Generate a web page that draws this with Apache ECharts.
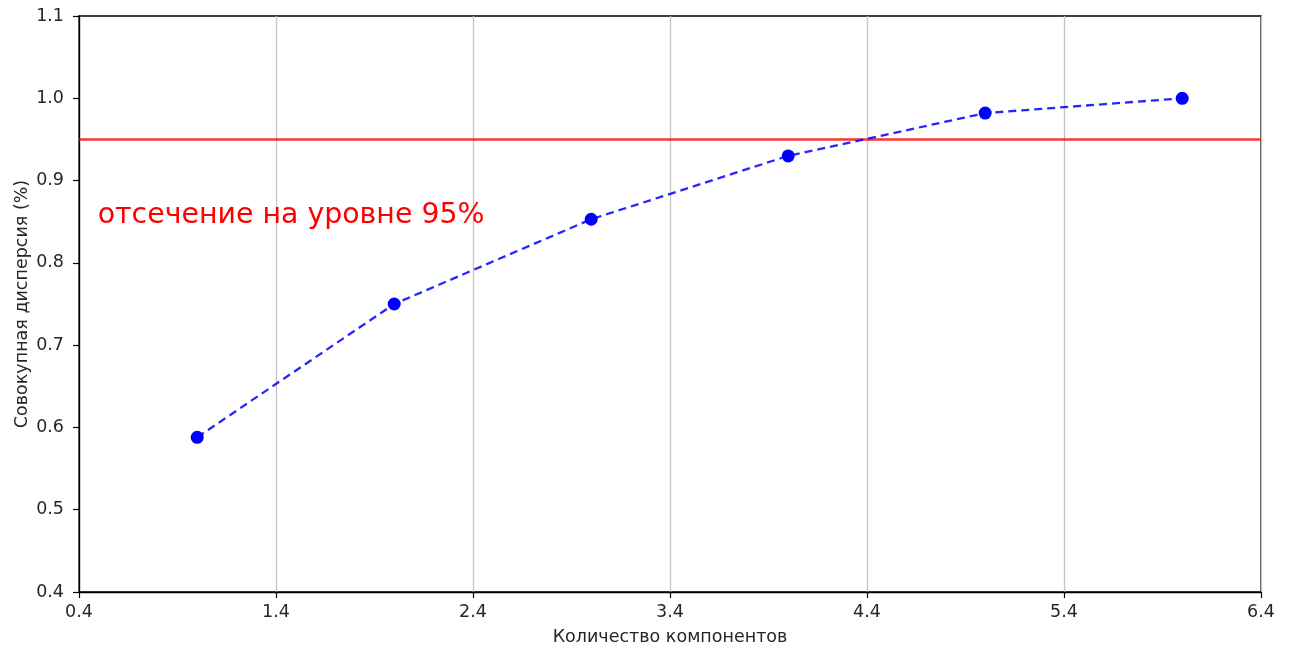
<!DOCTYPE html>
<html>
<head>
<meta charset="utf-8">
<script src="https://cdn.jsdelivr.net/npm/echarts@6/dist/echarts.min.js"></script>
<style>
  html, body { margin: 0; padding: 0; background: #fff; }
  #chart { width: 1289px; height: 645px; }
</style>
</head>
<body>
<div id="chart"></div>
<script>
// Cumulative explained variance by number of principal components
const components = [1, 2, 3, 4, 5, 6];
const cumVariance = [0.588, 0.750, 0.853, 0.930, 0.982, 1.000];
const cutoff = 0.95;
const cutoffLabel = 'отсечение на уровне 95%';
const cutoffLabelPos = [0.5, 0.85];
const xTicks = [0.4, 1.4, 2.4, 3.4, 4.4, 5.4, 6.4];
const yTicks = [0.4, 0.5, 0.6, 0.7, 0.8, 0.9, 1.0, 1.1];
const xTitle = 'Количество компонентов';
const yTitle = 'Совокупная дисперсия (%)';

const font = 'DejaVu Sans';
const tickFont = 17.5;
const chart = echarts.init(document.getElementById('chart'), null, { renderer: 'canvas' });

chart.setOption({
  animation: false,
  backgroundColor: '#ffffff',
  grid: {
    left: 79, right: 28, top: 16, bottom: 53,
    outerBoundsMode: 'none',
    containLabel: false,
    show: true, borderColor: '#000', borderWidth: 1.3, backgroundColor: 'transparent'
  },
  xAxis: {
    type: 'value',
    min: xTicks[0],
    max: xTicks[xTicks.length - 1],
    name: xTitle,
    nameLocation: 'middle',
    nameGap: 36,
    nameMoveOverlap: false,
    nameTextStyle: { fontFamily: font, fontSize: tickFont, color: '#262626' },
    axisLine: { show: true, onZero: false, lineStyle: { color: '#000', width: 1.3 } },
    axisTick: { show: true, inside: false, length: 6, customValues: xTicks, lineStyle: { color: '#000', width: 1.2 } },
    axisLabel: {
      customValues: xTicks,
      fontFamily: font, fontSize: tickFont, color: '#262626', margin: 11,
      formatter: v => v.toFixed(1)
    },
    splitLine: { show: true, lineStyle: { color: '#c4c4c4', width: 1.3 } }
  },
  yAxis: {
    type: 'value',
    min: yTicks[0],
    max: yTicks[yTicks.length - 1],
    interval: 0.1,
    name: yTitle,
    nameLocation: 'middle',
    nameGap: 48,
    nameMoveOverlap: false,
    nameTextStyle: { fontFamily: font, fontSize: tickFont, color: '#262626' },
    axisLine: { show: true, onZero: false, lineStyle: { color: '#000', width: 1.3 } },
    axisTick: { show: true, inside: false, length: 6, lineStyle: { color: '#000', width: 1.2 } },
    axisLabel: {
      fontFamily: font, fontSize: tickFont, color: '#262626', margin: 15,
      formatter: v => v.toFixed(1)
    },
    splitLine: { show: false }
  },
  series: [
    {
      type: 'line',
      data: components.map((c, i) => [c, cumVariance[i]]),
      symbol: 'circle',
      symbolSize: 13,
      showSymbol: true,
      itemStyle: { color: '#0000ff' },
      lineStyle: { color: 'rgba(0,0,255,0.85)', width: 2.3, type: [8, 5] },
      z: 3,
      markLine: {
        silent: true,
        symbol: ['none', 'none'],
        label: { show: false },
        lineStyle: { color: 'rgba(255,0,0,0.8)', width: 2.6, type: 'solid' },
        data: [{ yAxis: cutoff }],
        z: 2
      },
      markPoint: {
        silent: true,
        symbol: 'circle',
        symbolSize: 0,
        data: [{ coord: cutoffLabelPos }],
        label: {
          show: true,
          formatter: cutoffLabel,
          position: [0, 0],
          offset: [-1, 11],
          align: 'left',
          verticalAlign: 'bottom',
          fontFamily: font,
          fontSize: 28.4,
          color: '#ff0000',
          lineHeight: 34
        }
      }
    }
  ]
});
</script>
</body>
</html>
